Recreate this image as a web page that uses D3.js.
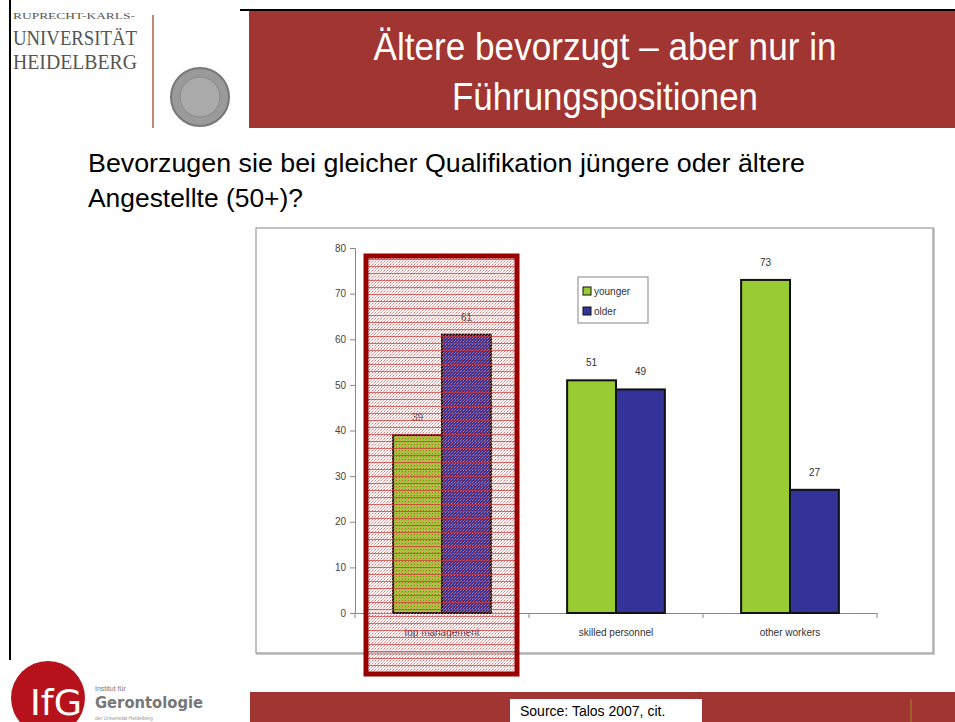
<!DOCTYPE html>
<html>
<head>
<meta charset="utf-8">
<script src="https://cdn.jsdelivr.net/npm/d3@7"></script>
<style>
  body { margin: 0; background: #fff; }
  svg { display: block; font-family: "Liberation Sans", Arial, sans-serif; }
</style>
</head>
<body>
<svg id="slide" width="955" height="722"></svg>
<script>
// chart data
var categories = ["top management", "skilled personnel", "other workers"];
var seriesNames = ["younger", "older"];
var younger = [39, 51, 73];
var older = [61, 49, 27];
var yTicks = [0, 10, 20, 30, 40, 50, 60, 70, 80];

var titleLines = ["Ältere bevorzugt – aber nur in", "Führungspositionen"];
var questionLines = ["Bevorzugen sie bei gleicher Qualifikation jüngere oder ältere", "Angestellte (50+)?"];
var sourceText = "Source: Talos 2007, cit.";

var red = "#a13531";
var colors = { younger: "#99cc33", older: "#333399" };

var svg = d3.select("#slide");

// pattern for the highlighted column
var defs = svg.append("defs");
var pat = defs.append("pattern")
    .attr("id", "dots")
    .attr("width", 3)
    .attr("height", 3)
    .attr("patternUnits", "userSpaceOnUse");
pat.append("rect").attr("width", 1).attr("height", 1).attr("fill", "#d33");
pat.append("rect").attr("x", 2).attr("y", 1).attr("width", 1).attr("height", 1).attr("fill", "#e77");
pat.append("rect").attr("x", 1).attr("y", 2).attr("width", 1).attr("height", 1).attr("fill", "#e99");

var pat2 = defs.append("pattern")
    .attr("id", "lines")
    .attr("width", 6)
    .attr("height", 7)
    .attr("patternUnits", "userSpaceOnUse");
pat2.append("rect").attr("width", 6).attr("height", 1).attr("fill", "#c33").attr("opacity", 0.7);

/* header */
svg.append("line")
    .attr("x1", 240).attr("x2", 955).attr("y1", 10).attr("y2", 10)
    .attr("stroke", "#000").attr("stroke-width", 2);
svg.append("line")
    .attr("x1", 10).attr("x2", 10).attr("y1", 0).attr("y2", 660)
    .attr("stroke", "#000").attr("stroke-width", 2);
svg.append("rect")
    .attr("x", 249).attr("y", 11).attr("width", 706).attr("height", 117)
    .attr("fill", red);

svg.selectAll(".title")
    .data(titleLines)
    .enter().append("text")
    .attr("class", "title")
    .attr("x", 605)
    .attr("y", function (d, i) { return 60 + i * 50; })
    .attr("text-anchor", "middle")
    .attr("fill", "#fff")
    .attr("font-size", 38)
    .attr("textLength", function (d, i) { return i == 0 ? 463 : 306; })
    .attr("lengthAdjust", "spacingAndGlyphs")
    .text(function (d) { return d; });

// university logo
svg.append("text").attr("x", 13).attr("y", 19)
    .attr("font-family", "Liberation Serif, serif").attr("font-size", 8)
    .attr("fill", "#555").attr("textLength", 122).attr("lengthAdjust", "spacingAndGlyphs")
    .text("RUPRECHT-KARLS-");
svg.append("text").attr("x", 13).attr("y", 45)
    .attr("font-family", "Liberation Serif, serif").attr("font-size", 21)
    .attr("fill", "#555").attr("textLength", 124).attr("lengthAdjust", "spacingAndGlyphs")
    .text("UNIVERSITÄT");
svg.append("text").attr("x", 13).attr("y", 69)
    .attr("font-family", "Liberation Serif, serif").attr("font-size", 21)
    .attr("fill", "#555").attr("textLength", 124).attr("lengthAdjust", "spacingAndGlyphs")
    .text("HEIDELBERG");
svg.append("line")
    .attr("x1", 153).attr("x2", 153).attr("y1", 15).attr("y2", 128)
    .attr("stroke", "#c08878").attr("stroke-width", 2);
svg.append("circle").attr("cx", 200).attr("cy", 97).attr("r", 29)
    .attr("fill", "#9a9a9a").attr("stroke", "#777").attr("stroke-width", 2);
svg.append("circle").attr("cx", 200).attr("cy", 97).attr("r", 20)
    .attr("fill", "#aaa").attr("stroke", "#888").attr("stroke-width", 1);

// question
svg.selectAll(".question")
    .data(questionLines)
    .enter().append("text")
    .attr("class", "question")
    .attr("x", 88)
    .attr("y", function (d, i) { return 172 + i * 35; })
    .attr("fill", "#000")
    .attr("font-size", 25)
    .attr("textLength", function (d, i) { return i == 0 ? 717 : 215; })
    .attr("lengthAdjust", "spacingAndGlyphs")
    .text(function (d) { return d; });

/* chart */
svg.append("rect")
    .attr("x", 257).attr("y", 229).attr("width", 677).attr("height", 425)
    .attr("fill", "none").attr("stroke", "#ccc").attr("stroke-width", 2);
svg.append("rect")
    .attr("x", 256).attr("y", 228).attr("width", 677).attr("height", 425)
    .attr("fill", "#fff").attr("stroke", "#999").attr("stroke-width", 1.2);

var y = d3.scaleLinear().domain([0, 80]).range([613, 248]);
var x0 = d3.scaleBand().domain(categories).range([355, 877]).paddingInner(0).paddingOuter(0);
var x1 = d3.scaleBand().domain(seriesNames).range([0, x0.bandwidth()]).paddingInner(0).paddingOuter(0.78);

var rows = categories.map(function (c, i) {
    return { cat: c, values: [{ key: "younger", v: younger[i] }, { key: "older", v: older[i] }] };
});

var g = svg.append("g");

// y axis
var yAxis = g.append("g")
    .attr("transform", "translate(355,0)")
    .call(d3.axisLeft(y).tickValues(yTicks).tickSize(5).tickPadding(4));
yAxis.select(".domain").attr("stroke", "#888");
yAxis.selectAll(".tick line").attr("stroke", "#888");
yAxis.selectAll("text").attr("font-size", 10).attr("fill", "#444")
    .attr("font-family", "Liberation Sans, Arial, sans-serif");

// x axis
var xAxis = g.append("g")
    .attr("transform", "translate(0,613)")
    .call(d3.axisBottom(x0).tickSize(0).tickPadding(16));
xAxis.select(".domain").attr("stroke", "#888");
xAxis.selectAll("text").attr("font-size", 10).attr("fill", "#333")
    .attr("font-family", "Liberation Sans, Arial, sans-serif");
g.selectAll(".xsep")
    .data(x0.domain().map(function (d) { return x0(d); }).concat([x0.range()[1]]))
    .enter().append("line")
    .attr("class", "xsep")
    .attr("x1", function (d) { return d; }).attr("x2", function (d) { return d; })
    .attr("y1", 613).attr("y2", 618)
    .attr("stroke", "#888");

// bars
var groups = g.selectAll(".cat")
    .data(rows)
    .enter().append("g")
    .attr("class", "cat")
    .attr("transform", function (d) { return "translate(" + x0(d.cat) + ",0)"; });

groups.selectAll("rect")
    .data(function (d) { return d.values; })
    .enter().append("rect")
    .attr("x", function (d) { return x1(d.key); })
    .attr("y", function (d) { return y(d.v); })
    .attr("width", x1.bandwidth())
    .attr("height", function (d) { return y(0) - y(d.v); })
    .attr("fill", function (d) { return colors[d.key]; })
    .attr("stroke", "#111")
    .attr("stroke-width", 2);

groups.selectAll(".val")
    .data(function (d) { return d.values; })
    .enter().append("text")
    .attr("class", "val")
    .attr("x", function (d) { return x1(d.key) + x1.bandwidth() / 2; })
    .attr("y", function (d) { return y(d.v) - 14; })
    .attr("text-anchor", "middle")
    .attr("font-size", 10)
    .attr("fill", "#333")
    .text(function (d) { return d.v; });

// legend
var legend = g.append("g").attr("transform", "translate(578,277)");
legend.append("rect")
    .attr("width", 70).attr("height", 46)
    .attr("fill", "#fff").attr("stroke", "#999").attr("stroke-width", 1.2);
var items = legend.selectAll(".item")
    .data(seriesNames)
    .enter().append("g")
    .attr("class", "item")
    .attr("transform", function (d, i) { return "translate(5," + (10 + i * 20) + ")"; });
items.append("rect")
    .attr("width", 8).attr("height", 8)
    .attr("fill", function (d) { return colors[d]; })
    .attr("stroke", "#111").attr("stroke-width", 1);
items.append("text")
    .attr("x", 11).attr("y", 8)
    .attr("font-size", 10).attr("fill", "#333")
    .text(function (d) { return d; });

// highlighted column
svg.append("rect")
    .attr("x", 366).attr("y", 256).attr("width", 151).attr("height", 418)
    .attr("fill", "url(#dots)").attr("opacity", 0.7);
svg.append("rect")
    .attr("x", 366).attr("y", 256).attr("width", 151).attr("height", 418)
    .attr("fill", "url(#lines)");
svg.append("rect")
    .attr("x", 366).attr("y", 256).attr("width", 151).attr("height", 418)
    .attr("fill", "none").attr("stroke", "#990000").attr("stroke-width", 5);

/* footer */
svg.append("rect")
    .attr("x", 250).attr("y", 692).attr("width", 705).attr("height", 30)
    .attr("fill", red);
svg.append("rect")
    .attr("x", 510).attr("y", 699).attr("width", 192).attr("height", 23)
    .attr("fill", "#fff");
svg.append("text")
    .attr("x", 520).attr("y", 716)
    .attr("font-size", 14).attr("fill", "#000")
    .text(sourceText);
svg.append("line")
    .attr("x1", 911).attr("x2", 911).attr("y1", 699).attr("y2", 722)
    .attr("stroke", "#a0702a").attr("stroke-width", 1.5);

// IfG logo
svg.append("circle").attr("cx", 48).attr("cy", 698).attr("r", 37).attr("fill", "#b5121b");
svg.append("text").attr("x", 30).attr("y", 715)
    .attr("font-size", 36).attr("fill", "#fff").attr("font-family", "DejaVu Sans, sans-serif")
    .attr("textLength", 52).attr("lengthAdjust", "spacingAndGlyphs")
    .text("IfG");
svg.append("text").attr("x", 95).attr("y", 691)
    .attr("font-size", 7).attr("fill", "#777").text("Institut für");
svg.append("text").attr("x", 95).attr("y", 708)
    .attr("font-size", 15).attr("font-weight", "bold").attr("fill", "#777")
    .attr("font-family", "DejaVu Sans, sans-serif")
    .attr("textLength", 108).attr("lengthAdjust", "spacingAndGlyphs")
    .text("Gerontologie");
svg.append("text").attr("x", 95).attr("y", 720)
    .attr("font-size", 5).attr("fill", "#999").text("der Universität Heidelberg");
</script>
</body>
</html>
